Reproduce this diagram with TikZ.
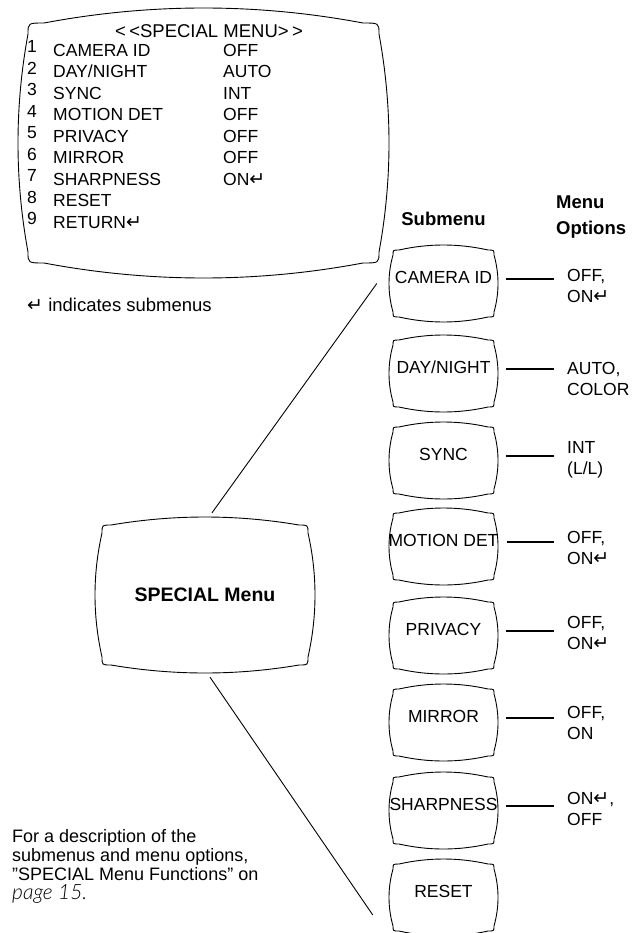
\documentclass[tikz,border=0pt]{standalone}
\usepackage{fontspec}
\setmainfont{Liberation Sans}
\newfontfamily\dejavu{DejaVu Sans}
\newfontfamily\pagefont{Lato Light}
\usetikzlibrary{calc}
\newcommand\ret{{\dejavu\fontsize{19}{19}\selectfont ↵}}
% CRT-screen outline around a node: #1 node, #2 half width, #3 half height,
% #4 side bulge, #5 top/bottom bulge, #6 corner size
\newcommand\crtframe[6]{%
  \begin{scope}[shift={(#1.center)}]
  \draw[crtline] ({-#2+#6},{-#3+#5})
    .. controls ({-(#2-#6)/3},{-#3-#5/3}) and ({(#2-#6)/3},{-#3-#5/3}) .. ({#2-#6},{-#3+#5})
    .. controls ({#2-#4},{-#3+#5}) .. ({#2-#4},{-#3+#6})
    .. controls ({#2+#4/3},{-(#3-#6)/3}) and ({#2+#4/3},{(#3-#6)/3}) .. ({#2-#4},{#3-#6})
    .. controls ({#2-#4},{#3-#5}) .. ({#2-#6},{#3-#5})
    .. controls ({(#2-#6)/3},{#3+#5/3}) and ({-(#2-#6)/3},{#3+#5/3}) .. ({-#2+#6},{#3-#5})
    .. controls ({-#2+#4},{#3-#5}) .. ({-#2+#4},{#3-#6})
    .. controls ({-#2-#4/3},{(#3-#6)/3}) and ({-#2-#4/3},{-(#3-#6)/3}) .. ({-#2+#4},{-#3+#6})
    .. controls ({-#2+#4},{-#3+#5}) .. cycle;
  \end{scope}}
\tikzset{
  crtline/.style={line width=0.9pt},
  reg/.style={font=\fontsize{17.5}{21}\selectfont, inner sep=0pt},
  row/.style={reg, text height=12.5pt, text depth=0pt, anchor=west},
  subbox/.style={reg, minimum width=109pt, minimum height=77pt, text height=12.5pt, text depth=12pt},
  opt/.style={reg, align=left, anchor=north west},
  hdr/.style={font=\bfseries\fontsize{18.5}{26}\selectfont, inner sep=0pt},
  link/.style={line width=1.8pt},
  diag/.style={line width=0.9pt},
}
\begin{document}
\begin{tikzpicture}[x=1pt,y=-1pt]
\useasboundingbox (0,0) rectangle (634,933);

% ---- top screen with the menu listing
\node[minimum width=371pt, minimum height=270pt, inner sep=0pt] (menu) at (203.5,143) {};
\crtframe{menu}{185.5}{135}{10}{15}{26}
\node[reg, font=\fontsize{18.5}{21}\selectfont, text height=13.2pt, text depth=0pt] (menutitle) at (209,30.7)
  {<\hspace{3.5pt}<SPECIAL MENU>\hspace{3.5pt}>};
\foreach \i/\lab [evaluate=\i as \yy using 50+21.5*(\i-1)] in
  {1/{CAMERA ID}, 2/{DAY/NIGHT}, 3/SYNC, 4/{MOTION DET}, 5/PRIVACY,
   6/MIRROR, 7/SHARPNESS, 8/RESET, 9/{RETURN\ret}} {
  \node[row] (num\i) at (27,\yy-3.5) {\i};
  \node[row] (item\i) at (53,\yy) {\lab};
}
\foreach \i/\val [evaluate=\i as \yy using 50+21.5*(\i-1)] in
  {1/OFF, 2/AUTO, 3/INT, 4/OFF, 5/OFF, 6/OFF, 7/{ON\ret}} {
  \node[row] (val\i) at (223,\yy) {\val};
}
\node[row, font=\fontsize{18.5}{21}\selectfont] (note) at (27,305) {\ret\ indicates submenus};

% ---- column headers
\node[hdr, text height=13.3pt, text depth=0pt] (subhdr) at (443.5,219) {Submenu};
\node[hdr, align=left, anchor=north west] (opthdr) at (556,195.4) {Menu\\Options};

% ---- submenu screens
\node[subbox] (camera)   at (443.5,283.5) {CAMERA ID};
\node[subbox] (daynight) at (443.5,373.5) {DAY/NIGHT};
\node[subbox] (sync)     at (443.5,460.5) {SYNC};
\node[subbox] (motion)   at (443.5,546.5) {MOTION DET};
\node[subbox] (privacy)  at (443.5,635.5) {PRIVACY};
\node[subbox] (mirror)   at (443.5,722.5) {MIRROR};
\node[subbox] (sharp)    at (443.5,810.5) {SHARPNESS};
\node[subbox] (reset)    at (443.5,897.5) {RESET};
\foreach \n in {camera,daynight,sync,motion,privacy,mirror,sharp,reset}
  \crtframe{\n}{54.5}{38.5}{4}{5}{10};

% ---- menu options
\node[opt] (ocamera)   at (567,268.9) {OFF,\\ON\ret};
\node[opt] (odaynight) at (567,361.9) {AUTO,\\COLOR};
\node[opt] (osync)     at (567,440.9) {INT\\(L/L)};
\node[opt] (omotion)   at (567,530.9) {OFF,\\ON\ret};
\node[opt] (oprivacy)  at (567,615.9) {OFF,\\ON\ret};
\node[opt] (omirror)   at (567,705.9) {OFF,\\ON};
\node[opt] (osharp)    at (567,791.9) {ON\ret,\\OFF};
\foreach \n in {camera,daynight,sync,motion,privacy,mirror,sharp}
  \draw[link] ($(\n.east)+(8,-4.5)$) -- ($(o\n.west |- \n.east)+(-13,-4.5)$);

% ---- SPECIAL Menu screen
\node[font=\bfseries\fontsize{19.5}{20}\selectfont, minimum width=220pt,
      minimum height=156pt, inner sep=0pt] (special) at (205,595) {SPECIAL Menu};
\crtframe{special}{110}{78}{7}{8}{16}
\draw[diag] ($(special.north)+(7,-4)$) -- ($(camera.west)+(-12,0)$);
\draw[diag] ($(special.south)+(5,4)$) -- ($(reset.west)+(-16,17.5)$);

% ---- note
\node[inner sep=0pt, font=\fontsize{18}{18.7}\selectfont, align=left, anchor=north west]
  (desc) at (12,829.7)
  {For a description of the\\submenus and menu options,\\”SPECIAL Menu Functions” on\\{\pagefont\itshape\fontsize{21}{18.7}\selectfont page 15.}};
\end{tikzpicture}
\end{document}
